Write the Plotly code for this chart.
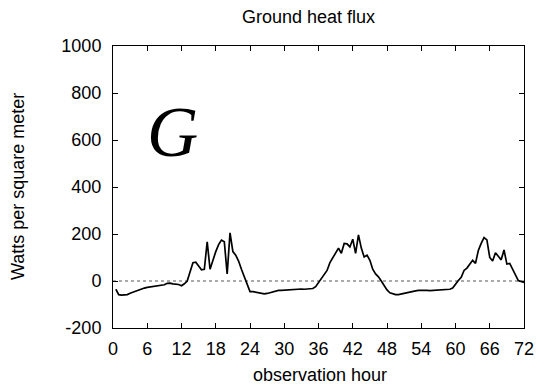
import plotly.graph_objects as go

hours = [h * 0.5 for h in range(1, 145)]
flux = [
    -35, -58, -60, -60, -58, -52, -47, -42, -37, -33, -30, -27,   # 0.5-6
    -25, -24, -23, -22, -20, -16, -10, -9, -12, -12, -15, -20,     # 6.5-12
    -12, 0, 40, 78, 80, 65, 48, 50, 167, 50, 90, 125,              # 12.5-18
    155, 174, 167, 30, 205, 125, 110, 85, 50, 20, -10, -45,        # 18.5-24
    -45, -48, -50, -53, -55, -53, -50, -46, -42, -40, -40, -39,    # 24.5-30
    -38, -36, -34, -33, -33, -34, -35, -35, -34, -32, -24, -8,     # 30.5-36
    10, 25, 45, 78, 100, 120, 140, 118, 160, 158, 145, 178,        # 36.5-42
    118, 196, 140, 102, 110, 88, 50, 30, 18, 0, -20, -38,          # 42.5-48
    -50, -55, -58, -58, -55, -52, -48, -46, -44, -42, -40, -39,    # 48.5-54
    -38, -40, -41, -40, -39, -38, -37, -37, -36, -35, -30, -12,    # 54.5-60
    2, 16, 45, 55, 70, 88, 75, 130, 160, 185, 175, 100,            # 60.5-66
    85, 120, 105, 90, 132, 72, 75, 50, 30, 2, -6,                  # 66.5-71.5 (+72)
]
hours = hours[:len(flux)]
hours = hours[:-1] + [72.0]

x_ticks = list(range(0, 73, 6))
y_ticks = [-200, 0, 200, 400, 600, 800, 1000]
y_labels = ["-200", "0", "200", "400", "600", "800", "1000"]

FONT = "Liberation Sans, Arial"
FS = 18

fig = go.Figure()
fig.add_trace(go.Scatter(x=[0, 72], y=[0, 0], mode="lines",
                         line=dict(color="#555555", width=1, dash="dot"),
                         hoverinfo="skip"))
fig.add_trace(go.Scatter(x=hours, y=flux, mode="lines",
                         line=dict(color="black", width=1.7)))

axis_common = dict(showline=True, linecolor="black", linewidth=1, mirror="ticks",
                   ticks="inside", ticklen=5, tickcolor="black", showgrid=False,
                   zeroline=False, tickfont=dict(family=FONT, size=FS, color="black"))

fig.update_layout(
    width=546, height=387,
    margin=dict(l=113, r=13, t=46, b=59),
    paper_bgcolor="white", plot_bgcolor="white",
    showlegend=False,
    xaxis=dict(range=[0, 72], tickvals=x_ticks, ticklabelstandoff=4, **axis_common),
    yaxis=dict(range=[-200, 1000], tickvals=y_ticks, ticktext=y_labels,
               ticklabelstandoff=7, **axis_common),
)

# title and axis titles as positioned text
fig.add_annotation(text="Ground heat flux", xref="paper", yref="paper",
                   x=(313 - 113) / 420, y=(328 - 17) / 282, showarrow=False,
                   xanchor="center", yanchor="middle",
                   font=dict(family=FONT, size=FS, color="black"))
fig.add_annotation(text="observation hour", xref="paper", yref="paper",
                   x=(325 - 113) / 420, y=(328 - 375) / 282, showarrow=False,
                   xanchor="center", yanchor="middle",
                   font=dict(family=FONT, size=FS, color="black"))
fig.add_annotation(text="Watts per square meter", xref="paper", yref="paper",
                   x=(16 - 113) / 420, y=0.5, showarrow=False, textangle=-90,
                   xanchor="center", yanchor="middle",
                   font=dict(family=FONT, size=FS, color="black"))

fig.add_annotation(text="<i>G</i>", xref="paper", yref="paper",
                   x=(174 - 113) / 420, y=(328 - 132) / 282,
                   showarrow=False, xanchor="center", yanchor="middle",
                   font=dict(family="Liberation Serif, Times New Roman", size=71, color="black"))

fig.write_html("out.html")
